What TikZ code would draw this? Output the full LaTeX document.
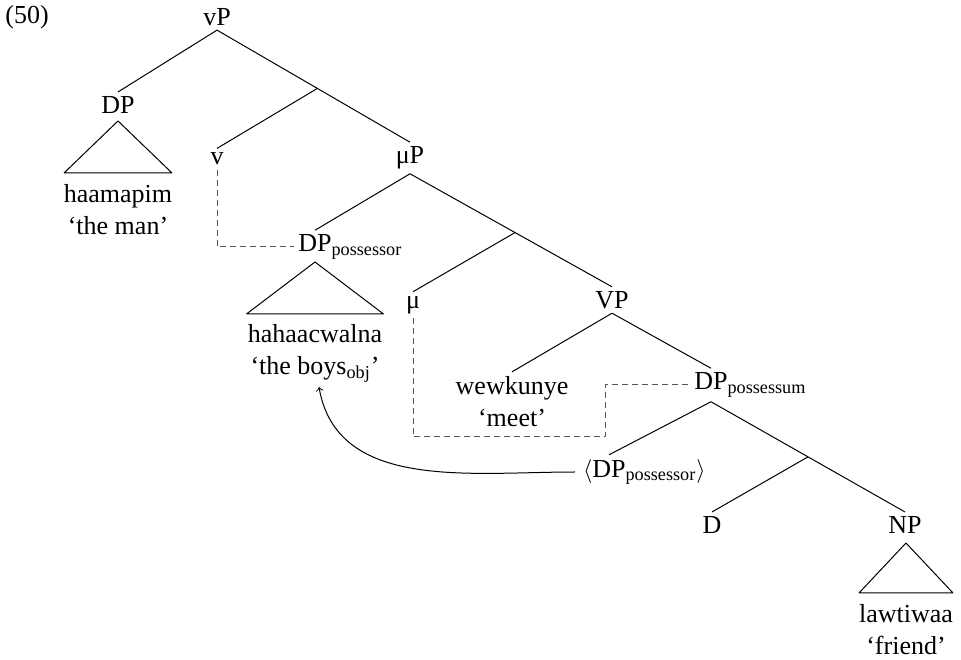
\documentclass[tikz,border=0pt]{standalone}
\usepackage{fontspec}
\setmainfont{Liberation Serif}
\usepackage{tikz}
\usetikzlibrary{arrows}
\definecolor{movegray}{RGB}{85,85,85}

\begin{document}
\begin{tikzpicture}[>=to,line join=bevel,line width=0.5bp,
  every node/.style={font=\fontsize{13bp}{16bp}\selectfont,inner sep=2bp},
  leaf/.style={align=center},
  move/.style={draw=movegray,dash pattern=on 3bp off 2bp}]
\useasboundingbox (0bp,0bp) rectangle (480.5bp,330bp);
%%
\node (ex) at (13.5bp,321.5bp) {(50)};
  \node (vP) at (108.5bp,321.5bp) {vP};
  \node (DPa) at (59.0bp,277.5bp) {DP};
  \node (v) at (108.5bp,250.5bp) {v};
  \node (muP) at (205.0bp,251.0bp) {μP};
  \node (DPb) at (157.5bp,206.5bp) {DP\rlap{\textsubscript{possessor}}};
  \node (mu) at (206.5bp,177.5bp) {μ};
  \node (VP) at (306.0bp,180.0bp) {VP};
  \node (DPc) at (355.5bp,137.5bp) {DP\rlap{\textsubscript{possessum}}};
  \node (trace) at (304.5bp,94.0bp) {\llap{$\langle$}DP\rlap{\textsubscript{possessor}$\rangle$}};
  \node (D) at (356.0bp,67.5bp) {D};
  \node (NP) at (452.5bp,67.5bp) {NP};
  \node (leafA) at (59.0bp,225.0bp) [leaf] {haamapim\\‘the man’};
  \node (leafB) at (157.5bp,153.25bp) [leaf] {hahaacwalna\\‘the boys\textsubscript{obj}’};
  \node (leafC) at (256.0bp,129.25bp) [leaf] {wewkunye\\‘meet’};
  \node (leafD) at (453.0bp,15.0bp) [leaf] {lawtiwaa\\‘friend’};
  % branches
  \draw (vP.south) -- (DPa.north);
  \draw (vP.south) -- coordinate[pos=.52] (b1) (muP.north);
  \draw (b1) -- (v.north);
  \draw (muP.south) -- (DPb.north);
  \draw (muP.south) -- coordinate[pos=.52] (b2) (VP.north);
  \draw (b2) -- (mu.north);
  \draw (VP.south) -- (leafC.north);
  \draw (VP.south) -- (DPc.north);
  \draw (DPc.south) -- (trace.north);
  \draw (DPc.south) -- coordinate[pos=.5] (b3) (NP.north);
  \draw (b3) -- (D.north);
  % triangles
  \draw (59.0bp,269.5bp) -- +(-27.0bp,-26.0bp) -- +(27.0bp,-26.0bp) -- cycle;
  \draw (157.5bp,199.0bp) -- +(-34.25bp,-26.0bp) -- +(34.25bp,-26.0bp) -- cycle;
  \draw (453.0bp,58.5bp) -- +(-23.5bp,-25.0bp) -- +(23.5bp,-25.0bp) -- cycle;
  % head movement
  \coordinate (m1) at (302.5bp,111.5bp);
  \draw [move] (v.south) |- (DPb.west);
  \draw [move] (mu.south) |- (m1) |- (DPc.west);
  % possessor raising
  \draw [->] ([xshift=-6.5bp]trace.west) to[out=180,in=-80] ([xshift=2bp]leafB.south);
%
\end{tikzpicture}
\end{document}
